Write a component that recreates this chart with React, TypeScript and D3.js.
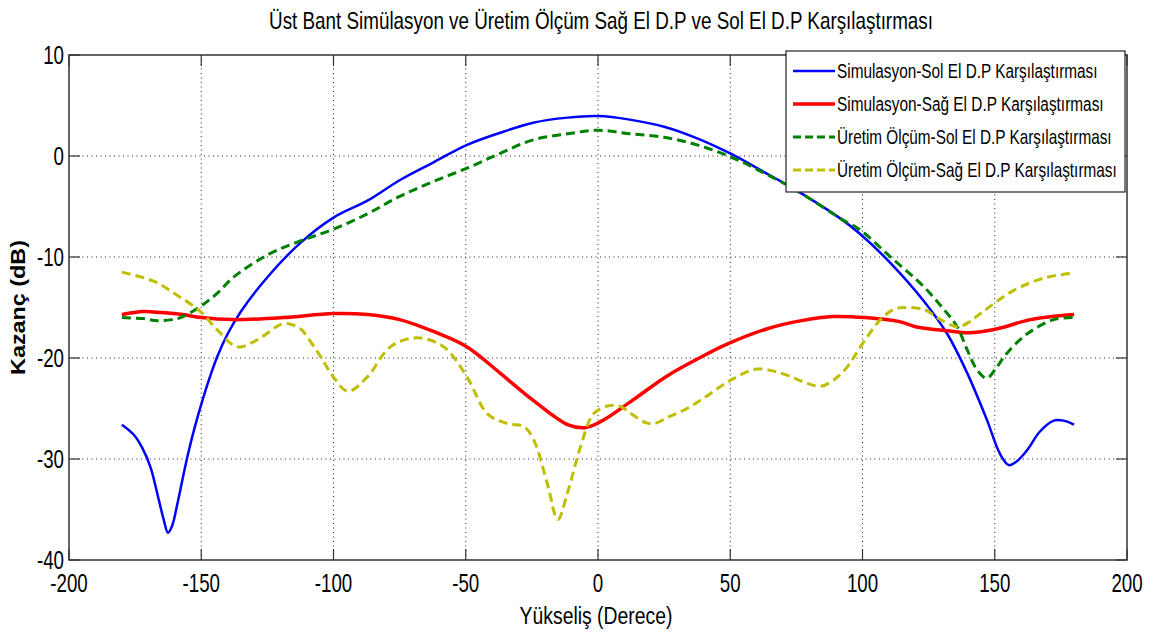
import React from "react";
import * as d3 from "d3";

const TITLE = "Üst Bant Simülasyon ve Üretim Ölçüm Sağ El D.P ve Sol El D.P Karşılaştırması";
const X_LABEL = "Yükseliş (Derece)";
const Y_LABEL = "Kazanç (dB)";
const X_TICKS = [-200, -150, -100, -50, 0, 50, 100, 150, 200];
const Y_TICKS = [-40, -30, -20, -10, 0, 10];

const SERIES_NAMES = [
  "Simulasyon-Sol El D.P Karşılaştırması",
  "Simulasyon-Sağ El D.P Karşılaştırması",
  "Üretim Ölçüm-Sol El D.P Karşılaştırması",
  "Üretim Ölçüm-Sağ El D.P Karşılaştırması",
];

const simSol: [number, number][] = [
  [-180, -26.6], [-175.5, -27.6], [-172.3, -28.9], [-169.2, -30.8], [-166, -34.1], [-164.2, -36],
  [-162.6, -37.3], [-161, -36.6], [-159, -34.4], [-157, -31.9], [-155, -29.5], [-152.5, -26.9],
  [-150, -24.6], [-147, -22.1], [-144, -19.9], [-140, -17.6], [-135, -15.4], [-125, -12],
  [-112.5, -8.6], [-100, -6.1],
  [-87, -4.4], [-75, -2.4], [-62, -0.6], [-49.5, 1.1], [-37, 2.3], [-24.5, 3.3], [-11.5, 3.8],
  [0, 3.95], [12, 3.6], [25, 2.9], [37.5, 1.75], [50, 0.25], [62.5, -1.55], [75, -3.4],
  [91.7, -6.2], [99, -7.7], [110.6, -10.6], [123, -14.3], [132, -17.6], [139.6, -21.5],
  [147, -26.1], [152, -29.5], [155.3, -30.6], [158, -30.3], [162.3, -29.1], [167, -27.3],
  [172.3, -26.2], [176, -26.2], [180, -26.6],
];

const simSag: [number, number][] = [
  [-180, -15.7], [-172, -15.4], [-165, -15.5], [-157, -15.7], [-150, -16], [-138, -16.2],
  [-119, -16], [-100, -15.6], [-87, -15.7], [-75, -16.2], [-62, -17.4], [-49.5, -18.9],
  [-37, -21.5], [-24.5, -24.2], [-11.5, -26.6], [-5, -26.9], [1, -26.3], [13, -24.2],
  [26, -21.8], [39, -19.9], [49, -18.6], [64, -17.1], [77, -16.3], [89, -15.9], [101, -16],
  [114, -16.4], [120, -16.9], [132, -17.3], [140, -17.5], [151, -17.1], [163.5, -16.2], [180, -15.7],
];

const uretimSol: [number, number][] = [
  [-180, -16], [-172, -16.1], [-166.7, -16.3], [-161, -16.2], [-157.8, -16], [-150.3, -14.9],
  [-144, -13.6], [-137.8, -12], [-125, -9.8], [-112.5, -8.4], [-100, -7.25], [-87, -5.7],
  [-75, -4], [-62, -2.5], [-49.5, -1.2], [-37, 0.26], [-24.5, 1.6], [-11.5, 2.2], [0, 2.55],
  [12, 2.2], [25, 1.85], [37.5, 1.1], [50, -0.07], [62.5, -1.65], [75, -3.4], [91.7, -6.2],
  [99, -7.3], [110.6, -10], [123, -12.9], [130.8, -15.2], [135.8, -16.9], [139.6, -19.2],
  [143.4, -21.2], [147, -22], [150.5, -21], [154.7, -19.5], [162.3, -17.6], [172.3, -16.2], [180, -16],
];

const uretimSag: [number, number][] = [
  [-180, -11.5], [-168, -12.4], [-159, -13.8], [-150.3, -15.4], [-144, -17.2], [-136.4, -18.9],
  [-128.8, -18.2], [-118.8, -16.6], [-112.5, -17.1], [-110, -17.9], [-105, -19.8], [-100, -21.9],
  [-94.5, -23.3], [-87.3, -21.9], [-78.5, -18.9], [-68.4, -18], [-58.3, -18.9], [-49.5, -21.9],
  [-41.9, -25.5], [-34.3, -26.5], [-28, -26.8], [-24.3, -28.1], [-19.2, -32.4], [-15.2, -36],
  [-11.6, -33.4], [-6.6, -28.8], [-1.6, -25.5], [4.7, -24.7], [8.5, -24.8], [13, -25.6],
  [18, -26.4], [21.1, -26.5], [27, -25.8], [33.7, -25], [41, -23.8], [49.5, -22.3], [60.2, -21.1],
  [71.5, -21.7], [77, -22.3], [84, -22.8], [89, -22.2], [94.2, -20.9], [99.2, -18.9],
  [106.8, -16.2], [111.8, -15.2], [115.6, -15], [123.2, -15.2], [129.5, -16.2], [135.8, -16.9],
  [140, -16.5], [144.6, -15.6], [157.2, -13.3], [169.8, -12], [180, -11.6],
];

const SERIES = [
  { name: SERIES_NAMES[0], data: simSol, color: "#0000ff", width: 2.5, dash: "" },
  { name: SERIES_NAMES[1], data: simSag, color: "#ff0000", width: 3.5, dash: "" },
  { name: SERIES_NAMES[2], data: uretimSol, color: "#008000", width: 3, dash: "9,5" },
  { name: SERIES_NAMES[3], data: uretimSag, color: "#bfbf00", width: 3, dash: "9,5" },
];

const W = 1154;
const H = 643;
const L = 69, R = 1127, T = 55, B = 560;
const FONT_NAME = "Liberation Sans";
const FONT = "'Liberation Sans', Arial, Helvetica, sans-serif";
const SX = 0.72;

let measureCtx: CanvasRenderingContext2D | null = null;
function measure(text: string, size: number, bold = false): number {
  if (typeof document === "undefined") return text.length * size * 0.5;
  if (!measureCtx) {
    const c = document.createElement("canvas");
    measureCtx = c.getContext("2d");
  }
  if (!measureCtx) return text.length * size * 0.5;
  measureCtx.font = `${bold ? "bold " : ""}${size}px '${FONT_NAME}', Arial, sans-serif`;
  return measureCtx.measureText(text).width;
}

function FitText(props: {
  x: number;
  y: number;
  text: string;
  size: number;
  width: number;
  anchor?: "start" | "middle" | "end";
  bold?: boolean;
  rotate?: number;
}) {
  const nat = measure(props.text, props.size, props.bold);
  const s = nat > 0 ? props.width / nat : 1;
  const rot = props.rotate ? ` rotate(${props.rotate})` : "";
  return (
    <text
      transform={`translate(${props.x},${props.y})${rot} scale(${s},1)`}
      textAnchor={props.anchor || "start"}
      fontSize={props.size}
      fontWeight={props.bold ? "bold" : "normal"}
    >
      {props.text}
    </text>
  );
}

export default function App() {
  const x = d3.scaleLinear().domain([-200, 200]).range([L, R]);
  const y = d3.scaleLinear().domain([-40, 10]).range([B, T]);
  const line = d3
    .line<[number, number]>()
    .x((d) => x(d[0]))
    .y((d) => y(d[1]))
    .curve(d3.curveCatmullRom.alpha(0.5));

  const tickLen = 11;
  const legendX = 786, legendY = 51, legendW = 339, legendH = 141;
  const legendRows = [71, 104, 137, 170];
  const legendWidths = [261, 267, 275, 280];

  return (
    <svg
      width={W}
      height={H}
      style={{ position: "absolute", left: 0, top: 0, background: "#fff" }}
      fontFamily={FONT}
    >
      <rect x={0} y={0} width={W} height={H} fill="#fff" />
      <defs>
        <clipPath id="plotclip">
          <rect x={L} y={T} width={R - L} height={B - T} />
        </clipPath>
      </defs>
      {/* grid */}
      <g stroke="#222" strokeWidth={1} strokeDasharray="1,3.5">
        {X_TICKS.filter((t) => t > -200 && t < 200).map((t) => (
          <line key={"gx" + t} x1={x(t)} x2={x(t)} y1={T} y2={B} />
        ))}
        {Y_TICKS.filter((t) => t > -40 && t < 10).map((t) => (
          <line key={"gy" + t} x1={L} x2={R} y1={y(t)} y2={y(t)} />
        ))}
      </g>
      {/* ticks */}
      <g stroke="#333" strokeWidth={1.2}>
        {X_TICKS.map((t) => (
          <g key={"tx" + t}>
            <line x1={x(t)} x2={x(t)} y1={B} y2={B - tickLen} />
            <line x1={x(t)} x2={x(t)} y1={T} y2={T + tickLen} />
          </g>
        ))}
        {Y_TICKS.map((t) => (
          <g key={"ty" + t}>
            <line x1={L} x2={L + tickLen} y1={y(t)} y2={y(t)} />
            <line x1={R} x2={R - tickLen} y1={y(t)} y2={y(t)} />
          </g>
        ))}
      </g>
      {/* series */}
      <g clipPath="url(#plotclip)" fill="none" strokeLinejoin="round">
        {SERIES.map((s) => (
          <path
            key={s.name}
            d={line(s.data) || ""}
            stroke={s.color}
            strokeWidth={s.width}
            strokeDasharray={s.dash || undefined}
          />
        ))}
      </g>
      {/* box */}
      <rect x={L} y={T} width={R - L} height={B - T} fill="none" stroke="#333" strokeWidth={1.5} />
      {/* tick labels */}
      <g fontSize={26} fill="#000">
        {X_TICKS.map((t) => (
          <text
            key={"lx" + t}
            transform={`translate(${x(t)},${B + 32}) scale(${SX},1)`}
            textAnchor="middle"
          >
            {t}
          </text>
        ))}
        {Y_TICKS.map((t) => (
          <text
            key={"ly" + t}
            transform={`translate(${L - 5},${y(t) + 9}) scale(${SX},1)`}
            textAnchor="end"
          >
            {t}
          </text>
        ))}
      </g>
      {/* title */}
      <FitText x={(L + R) / 2 + 3} y={29} text={TITLE} size={24} width={665} anchor="middle" />
      {/* axis labels */}
      <FitText x={596} y={624} text={X_LABEL} size={24} width={153} anchor="middle" />
      <FitText
        x={25}
        y={(T + B) / 2}
        text={Y_LABEL}
        size={21}
        width={135}
        anchor="middle"
        bold
        rotate={-90}
      />
      {/* legend */}
      <g>
        <rect x={legendX} y={legendY} width={legendW} height={legendH} fill="#fff" stroke="#222" strokeWidth={1.2} />
        {SERIES.map((s, i) => (
          <g key={"lg" + i}>
            <line
              x1={793}
              x2={835}
              y1={legendRows[i]}
              y2={legendRows[i]}
              stroke={s.color}
              strokeWidth={s.width}
              strokeDasharray={s.dash ? "8,4" : undefined}
            />
            <FitText x={837} y={legendRows[i] + 7} text={s.name} size={21} width={legendWidths[i]} />
          </g>
        ))}
      </g>
    </svg>
  );
}
